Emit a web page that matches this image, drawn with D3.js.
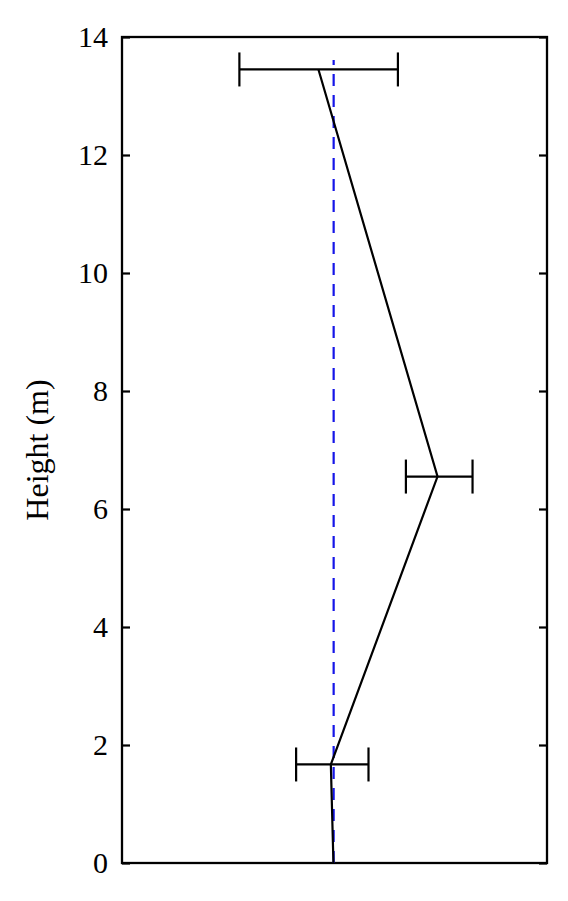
<!DOCTYPE html>
<html lang="en">
<head>
    <meta charset="UTF-8">
    <title>Height profile</title>
    <script src="https://cdnjs.cloudflare.com/ajax/libs/d3/7.8.5/d3.min.js"></script>
    <style>
        body { margin: 0; padding: 0; background: #fff; }
        svg { display: block; }
    </style>
</head>
<body>
  <div id="chart"></div>
  <script>
    // Data (x is unitless)
    const heights = [0, 1.67, 6.55, 13.45];
    const values = [0.4975, 0.4914, 0.7424, 0.4622];
    const errLow = [null, 0.4097, 0.668, 0.2762];
    const errHigh = [null, 0.580, 0.8248, 0.6492];
    const refX = [0.498, 0.498];
    const refHeights = [0, 13.61];
    const yTicks = [0, 2, 4, 6, 8, 10, 12, 14];

    const width = 568, height = 901;
    const margin = { top: 37, right: 21, bottom: 38, left: 122 };
    const iw = width - margin.left - margin.right;
    const ih = height - margin.top - margin.bottom;
    const serif = "'Liberation Serif', 'DejaVu Serif', serif";

    const svg = d3.select("#chart").append("svg")
        .attr("width", width).attr("height", height);
    const g = svg.append("g").attr("transform", `translate(${margin.left},${margin.top})`);

    const x = d3.scaleLinear().domain([0, 1]).range([0, iw]);
    const y = d3.scaleLinear().domain([0, 14]).range([ih, 0]);

    // Ticks on both sides, pointing inward
    const left = g.append("g").call(d3.axisLeft(y).tickValues(yTicks).tickSize(-8).tickPadding(14));
    const right = g.append("g").attr("transform", `translate(${iw},0)`)
        .call(d3.axisRight(y).tickValues(yTicks).tickSize(-8).tickFormat(""));
    [left, right].forEach(a => {
        a.select(".domain").remove();
        a.selectAll("line").attr("stroke", "#000").attr("stroke-width", 2.2);
    });
    left.attr("font-family", serif).attr("font-size", 30);
    left.selectAll("text").attr("fill", "#000");

    g.append("rect")
        .attr("width", iw).attr("height", ih)
        .attr("fill", "none").attr("stroke", "#000").attr("stroke-width", 2.3);

    // Reference dashed line
    g.append("path")
        .datum(refX.map((v, i) => [v, refHeights[i]]))
        .attr("d", d3.line().x(d => x(d[0])).y(d => y(d[1])))
        .attr("fill", "none").attr("stroke", "#1515e8").attr("stroke-width", 2.2)
        .attr("stroke-dasharray", "12,9");

    // Profile line
    g.append("path")
        .datum(values.map((v, i) => [v, heights[i]]))
        .attr("d", d3.line().x(d => x(d[0])).y(d => y(d[1])))
        .attr("fill", "none").attr("stroke", "#000").attr("stroke-width", 2.2);

    // Error bars
    const capH = 17;
    const bars = heights.map((h, i) => ({ h, lo: errLow[i], hi: errHigh[i] })).filter(d => d.lo !== null);
    const eb = g.selectAll(".err").data(bars).enter().append("g").attr("class", "err")
        .attr("stroke", "#000").attr("stroke-width", 2.2);
    eb.append("line")
        .attr("x1", d => x(d.lo)).attr("x2", d => x(d.hi))
        .attr("y1", d => y(d.h)).attr("y2", d => y(d.h));
    eb.append("line")
        .attr("x1", d => x(d.lo)).attr("x2", d => x(d.lo))
        .attr("y1", d => y(d.h) - capH).attr("y2", d => y(d.h) + capH);
    eb.append("line")
        .attr("x1", d => x(d.hi)).attr("x2", d => x(d.hi))
        .attr("y1", d => y(d.h) - capH).attr("y2", d => y(d.h) + capH);

    // Y label
    svg.append("text")
        .attr("transform", `translate(48,${margin.top + ih / 2}) rotate(-90)`)
        .attr("text-anchor", "middle")
        .attr("font-family", serif)
        .attr("font-size", 32)
        .text("Height (m)");
  </script>
</body>
</html>
